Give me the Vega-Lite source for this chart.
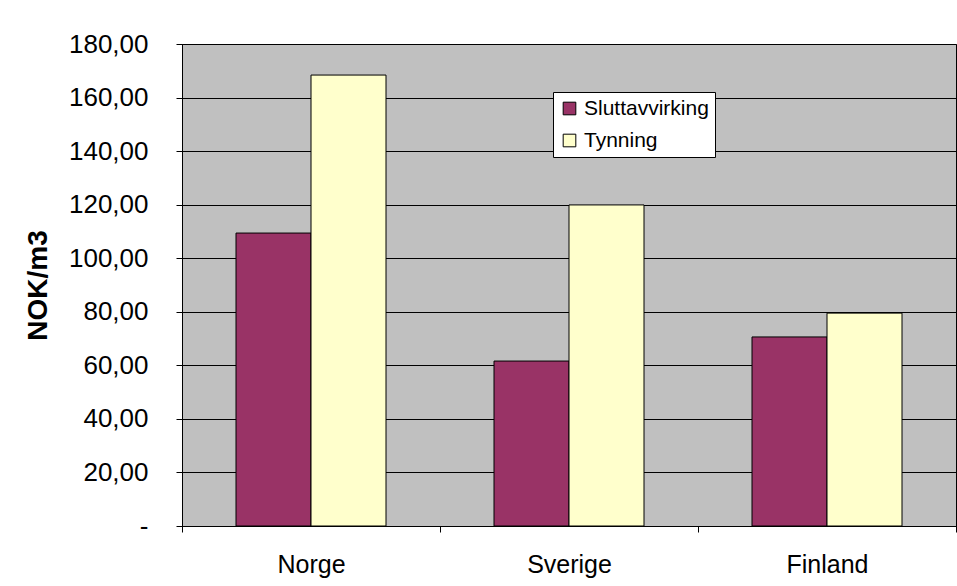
{
  "$schema": "https://vega.github.io/schema/vega-lite/v6.json",
  "width": 774,
  "height": 482,
  "autosize": "none",
  "padding": {"left": 182, "top": 44, "right": 1, "bottom": 60},
  "background": "white",
  "data": {"values": [
    {"land": "Norge", "type": "Sluttavvirking", "v": 109.4},
    {"land": "Norge", "type": "Tynning", "v": 168.4},
    {"land": "Sverige", "type": "Sluttavvirking", "v": 61.6},
    {"land": "Sverige", "type": "Tynning", "v": 119.9},
    {"land": "Finland", "type": "Sluttavvirking", "v": 70.6},
    {"land": "Finland", "type": "Tynning", "v": 79.5}
  ]},
  "mark": {"type": "bar", "stroke": "black", "strokeWidth": 1},
  "encoding": {
    "x": {"field": "land", "type": "nominal", "sort": ["Norge", "Sverige", "Finland"], "title": null,
      "scale": {"paddingInner": 0, "paddingOuter": 0},
      "axis": {"labelAngle": 0, "tickBand": "extent", "labelFontSize": 25, "labelPadding": 20, "tickColor": "black", "domainColor": "black", "tickSize": 6}},
    "xOffset": {"field": "type", "type": "nominal", "scale": {"paddingInner": 0, "paddingOuter": 0.72}},
    "y": {"field": "v", "type": "quantitative", "title": "NOK/m3",
      "scale": {"domain": [0, 180]},
      "axis": {"values": [0,20,40,60,80,100,120,140,160,180],
        "labelExpr": "datum.value == 0 ? '-' : replace(format(datum.value, '.2f'), '.', ',')",
        "labelFontSize": 26, "labelPadding": 28, "tickSize": 6, "tickColor": "black", "domainColor": "black",
        "gridColor": "black", "gridOpacity": 1,
        "titleFontSize": 28, "titleFontWeight": "bold", "titlePadding": 16}},
    "color": {"field": "type", "type": "nominal", "title": null,
      "scale": {"range": ["#993366", "#ffffcc"]},
      "legend": {"orient": "none", "legendX": 371, "legendY": 48, "fillColor": "white", "strokeColor": "black",
        "padding": 6, "symbolType": "square", "symbolSize": 160, "symbolStrokeColor": "black", "symbolStrokeWidth": 1,
        "labelFontSize": 21, "rowPadding": 10, "labelColor": "black"}}
  },
  "config": {
    "font": "Liberation Sans",
    "view": {"fill": "#c0c0c0", "stroke": "black"},
    "axis": {"labelColor": "black", "titleColor": "black", "labelFont": "Liberation Sans", "titleFont": "Liberation Sans"},
    "axisX": {"grid": false}
  }
}
